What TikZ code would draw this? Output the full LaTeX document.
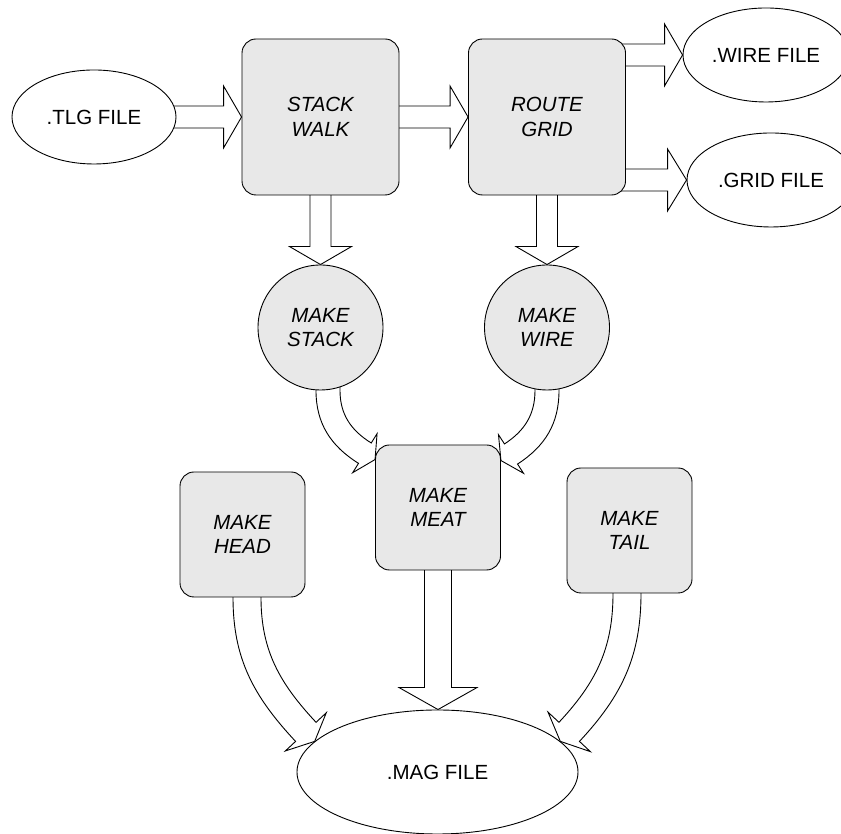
\documentclass[tikz,border=0pt]{standalone}
\usepackage{fontspec}
\setmainfont{Liberation Sans}
\usetikzlibrary{calc,shapes.geometric}
\pgfdeclarelayer{background}
\pgfsetlayers{background,main}
\definecolor{procfill}{RGB}{232,232,232}

% Hollow block arrow: #1 start, #2 direction at start, #3 tip,
% #4 direction at tip, #5 shaft width, #6 head width, #7 head length.
% The tail is tucked 10pt inside the start node, which hides it.
\newcommand{\blockarrow}[7]{%
  \pgfmathsetmacro\baIn{#4+180}%
  \pgfmathsetmacro\baBack{#2+180}%
  \pgfmathsetmacro\baL{#2+90}%
  \pgfmathsetmacro\baR{#2-90}%
  \pgfmathsetmacro\bbL{#4+90}%
  \pgfmathsetmacro\bbR{#4-90}%
  \pgfmathsetmacro\baHalf{#5/2}%
  \pgfmathsetmacro\baHead{#6/2}%
  \coordinate (ba-s) at #1;
  \coordinate (ba-t) at #3;
  \coordinate (ba-b) at ($(ba-t)+(\baIn:#7)$);
  \coordinate (ba-si) at ($(ba-s)+(\baBack:10)$);
  \filldraw[arrowbody]
    ($(ba-si)+(\baL:\baHalf)$) -- ($(ba-s)+(\baL:\baHalf)$)
    to[out=#2, in=\baIn] ($(ba-b)+(\bbL:\baHalf)$)
    -- ($(ba-b)+(\bbL:\baHead)$) -- (ba-t) -- ($(ba-b)+(\bbR:\baHead)$)
    -- ($(ba-b)+(\bbR:\baHalf)$)
    to[out=\baIn, in=#2] ($(ba-s)+(\baR:\baHalf)$)
    -- ($(ba-si)+(\baR:\baHalf)$);
}

\begin{document}
\begin{tikzpicture}[
  x=1pt, y=1pt,
  every node/.style={font=\fontsize{20.5}{24.5}\selectfont, align=center},
  datafile/.style={ellipse, draw, fill=white, inner sep=0pt, line width=0.9pt},
  proc/.style={draw, fill=procfill, rounded corners=14pt, inner sep=0pt,
    line width=0.9pt, minimum width=125, minimum height=125,
    font=\fontsize{20.5}{24.5}\selectfont\itshape},
  bigproc/.style={proc, minimum width=157, minimum height=156},
  subproc/.style={circle, draw, fill=procfill, inner sep=0pt, line width=0.9pt,
    minimum size=125, font=\fontsize{20.5}{24.5}\selectfont\itshape},
  arrowbody/.style={draw=black, fill=white, line width=0.9pt, line join=miter},
]
\useasboundingbox (0,0) rectangle (841,834);

% files and processes
\node[datafile, minimum width=164, minimum height=94] (tlg) at (94,717) {.TLG FILE};
\node[bigproc] (sw) at (320.5,717) {STACK\\WALK};
\node[bigproc] (rg) at (547,717) {ROUTE\\GRID};
\node[datafile, minimum width=166, minimum height=94] (wire) at (766,779) {.WIRE FILE};
\node[datafile, minimum width=168, minimum height=94] (grid) at (771,654) {.GRID FILE};
\node[subproc] (ms) at (320.5,506.5) {MAKE\\STACK};
\node[subproc] (mw) at (547,506.5) {MAKE\\WIRE};
\node[proc] (meat) at (438,326.5) {MAKE\\MEAT};
\node[proc] (head) at (242.5,299.5) {MAKE\\HEAD};
\node[proc] (tail) at (629.5,303.5) {MAKE\\TAIL};
\node[datafile, minimum width=281, minimum height=124] (mag) at (437.5,62) {.MAG FILE};

% data flow
\begin{pgfonlayer}{background}
\blockarrow{(tlg.east)}{0}{(sw.west)}{0}{22}{62}{18}
\blockarrow{(sw.east)}{0}{(rg.west)}{0}{22}{62}{18}
\blockarrow{(rg.east |- wire.west)}{0}{(wire.west)}{0}{22}{62}{18}
\blockarrow{(rg.east |- grid.west)}{0}{(grid.west)}{0}{22}{62}{19}
\blockarrow{(sw.south)}{-90}{(ms.north)}{-90}{21}{62}{18}
\blockarrow{(rg.south)}{-90}{(mw.north)}{-90}{21}{62}{18}
\blockarrow{($(ms.south)+(7.5,0)$)}{-90}{($(meat.north west)+(0,-15)$)}{-32}{24}{46}{12}
\blockarrow{(mw.south)}{-90}{($(meat.north east)+(0,-16)$)}{213}{24}{46}{12}
\blockarrow{(meat.south)}{-90}{(meat.south |- mag.north)}{-90}{27}{78}{22}
\blockarrow{($(head.south)+(4.5,0)$)}{-90}{(mag.166)}{-47}{28}{56}{13}
\blockarrow{($(tail.south)+(-2.5,0)$)}{-90}{(mag.14)}{227}{28}{58}{13}
\end{pgfonlayer}
\end{tikzpicture}
\end{document}
